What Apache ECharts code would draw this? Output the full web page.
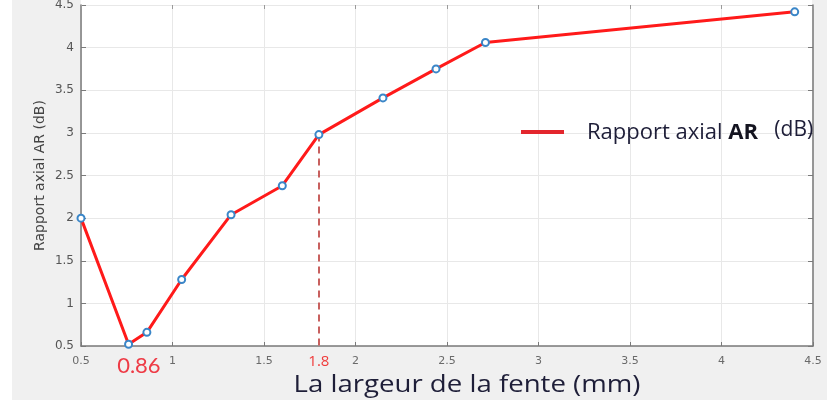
<!DOCTYPE html>
<html>
<head>
<meta charset="utf-8">
<script src="https://cdn.jsdelivr.net/npm/echarts@6/dist/echarts.min.js"></script>
<style>
  html, body { margin: 0; padding: 0; background: #ffffff; }
  #chart { width: 827px; height: 405px; }
</style>
</head>
<body>
<div id="chart"></div>
<script>
// Slot width (mm) and the axial ratio measured for each width (dB)
const slotWidth = [0.5, 0.76, 0.86, 1.05, 1.32, 1.6, 1.8, 2.15, 2.44, 2.71, 4.4];
const axialRatio = [2.0, 0.52, 0.66, 1.28, 2.04, 2.38, 2.98, 3.41, 3.75, 4.06, 4.42];

// Highlighted widths
const markedWidth = 1.8;
const markedAR = 2.98;
const notedWidth = 0.86;

const seriesName = 'Rapport axial AR (dB)';
const xTitle = 'La largeur de la fente (mm)';

const chart = echarts.init(document.getElementById('chart'), null, { renderer: 'canvas' });

const pairs = slotWidth.map((w, i) => [w, axialRatio[i]]);

const tickFont = 'DejaVu Sans';
const textFont = 'Open Sans';

chart.setOption({
  backgroundColor: '#ffffff',
  animation: false,
  graphic: [
    { type: 'rect', z: -100, silent: true, shape: { x: 12, y: 0, width: 815, height: 400 }, style: { fill: '#f0f0f0' } },
    { type: 'rect', z: -99, silent: true, shape: { x: 81, y: 0, width: 731, height: 346 }, style: { fill: '#ffffff' } },
    // x-axis title, drawn slightly widened
    {
      type: 'text',
      silent: true,
      x: 467,
      y: 385,
      scaleX: 1.2,
      style: {
        text: xTitle,
        fontFamily: textFont,
        fontSize: 23,
        fill: '#1e1e38',
        textAlign: 'center',
        textVerticalAlign: 'middle'
      }
    }
  ],
  grid: { left: 81, right: 14, top: 5, bottom: 59, show: false, outerBoundsMode: 'none', containLabel: false },
  legend: {
    left: 516,
    top: 115,
    icon: 'rect',
    itemWidth: 43,
    itemHeight: 4,
    itemStyle: { color: '#e3262d', borderWidth: 0 },
    data: [{ name: seriesName, itemStyle: { color: '#e3262d', borderWidth: 0 } }],
    formatter: () => '{n|Rapport axial }{b|AR}{u|   (dB)}',
    textStyle: {
      padding: [0, 0, 0, 18],
      rich: {
        n: { fontFamily: textFont, fontSize: 22, color: '#1e1e38', verticalAlign: 'bottom' },
        b: { fontFamily: textFont, fontSize: 22, fontWeight: 'bold', color: '#141420', verticalAlign: 'bottom' },
        u: { fontFamily: textFont, fontSize: 21, color: '#1e1e38', padding: [0, 0, 3, 0], verticalAlign: 'bottom' }
      }
    }
  },
  xAxis: [
    {
      type: 'value',
      min: 0.5,
      max: 4.5,
      interval: 0.5,
      position: 'bottom',
      axisLine: { show: true, lineStyle: { color: '#7a7a7a', width: 1.5 } },
      axisTick: { show: true, inside: true, length: 4, lineStyle: { color: '#7a7a7a' } },
      axisLabel: { fontFamily: tickFont, fontSize: 11, color: '#6a6a6a', margin: 10, formatter: v => String(v) },
      splitLine: { show: true, lineStyle: { color: '#e8e8e8', width: 1 } }
    },
    {
      type: 'value',
      min: 0.5,
      max: 4.5,
      interval: 0.5,
      position: 'top',
      axisLine: { show: false },
      axisTick: { show: true, inside: true, length: 4, lineStyle: { color: '#9a9a9a' } },
      axisLabel: { show: false },
      splitLine: { show: false }
    }
  ],
  yAxis: [
    {
      type: 'value',
      min: 0.5,
      max: 4.5,
      interval: 0.5,
      position: 'left',
      name: seriesName,
      nameLocation: 'middle',
      nameGap: 34,
      nameMoveOverlap: false,
      nameTextStyle: { fontFamily: tickFont, fontSize: 14, color: '#444444' },
      axisLine: { show: true, lineStyle: { color: '#7a7a7a', width: 1.5 } },
      axisTick: { show: true, inside: true, length: 5, lineStyle: { color: '#7a7a7a' } },
      axisLabel: { fontFamily: tickFont, fontSize: 12, color: '#555555', margin: 7, formatter: v => String(v) },
      splitLine: { show: true, lineStyle: { color: '#e8e8e8', width: 1 } }
    },
    {
      type: 'value',
      min: 0.5,
      max: 4.5,
      interval: 0.5,
      position: 'right',
      axisLine: { show: true, lineStyle: { color: '#7a7a7a', width: 1.5 } },
      axisTick: { show: true, inside: true, length: 5, lineStyle: { color: '#7a7a7a' } },
      axisLabel: { show: false },
      splitLine: { show: false }
    }
  ],
  series: [
    {
      name: seriesName,
      type: 'line',
      data: pairs,
      xAxisIndex: 0,
      yAxisIndex: 0,
      symbol: 'emptyCircle',
      symbolSize: 7,
      lineStyle: { color: '#ff1a1a', width: 3 },
      itemStyle: { color: '#3a86c8', borderColor: '#3a86c8', borderWidth: 2 },
      z: 5,
      markLine: {
        silent: true,
        symbol: 'none',
        z: 3,
        lineStyle: { color: '#c8605e', type: [7, 5], width: 2 },
        label: {
          show: true,
          position: 'end',
          formatter: String(markedWidth),
          fontFamily: textFont,
          fontSize: 15,
          color: '#f03a3a',
          distance: 8
        },
        data: [[{ coord: [markedWidth, markedAR] }, { coord: [markedWidth, 0.5] }]]
      },
      markPoint: {
        silent: true,
        symbol: 'circle',
        symbolSize: 0,
        itemStyle: { color: 'rgba(0,0,0,0)' },
        label: {
          show: true,
          position: 'inside',
          offset: [-8, 20],
          formatter: String(notedWidth),
          fontFamily: 'Lato',
          fontSize: 22,
          color: '#ee3b46'
        },
        data: [{ coord: [notedWidth, 0.5] }]
      }
    }
  ]
});
</script>
</body>
</html>
